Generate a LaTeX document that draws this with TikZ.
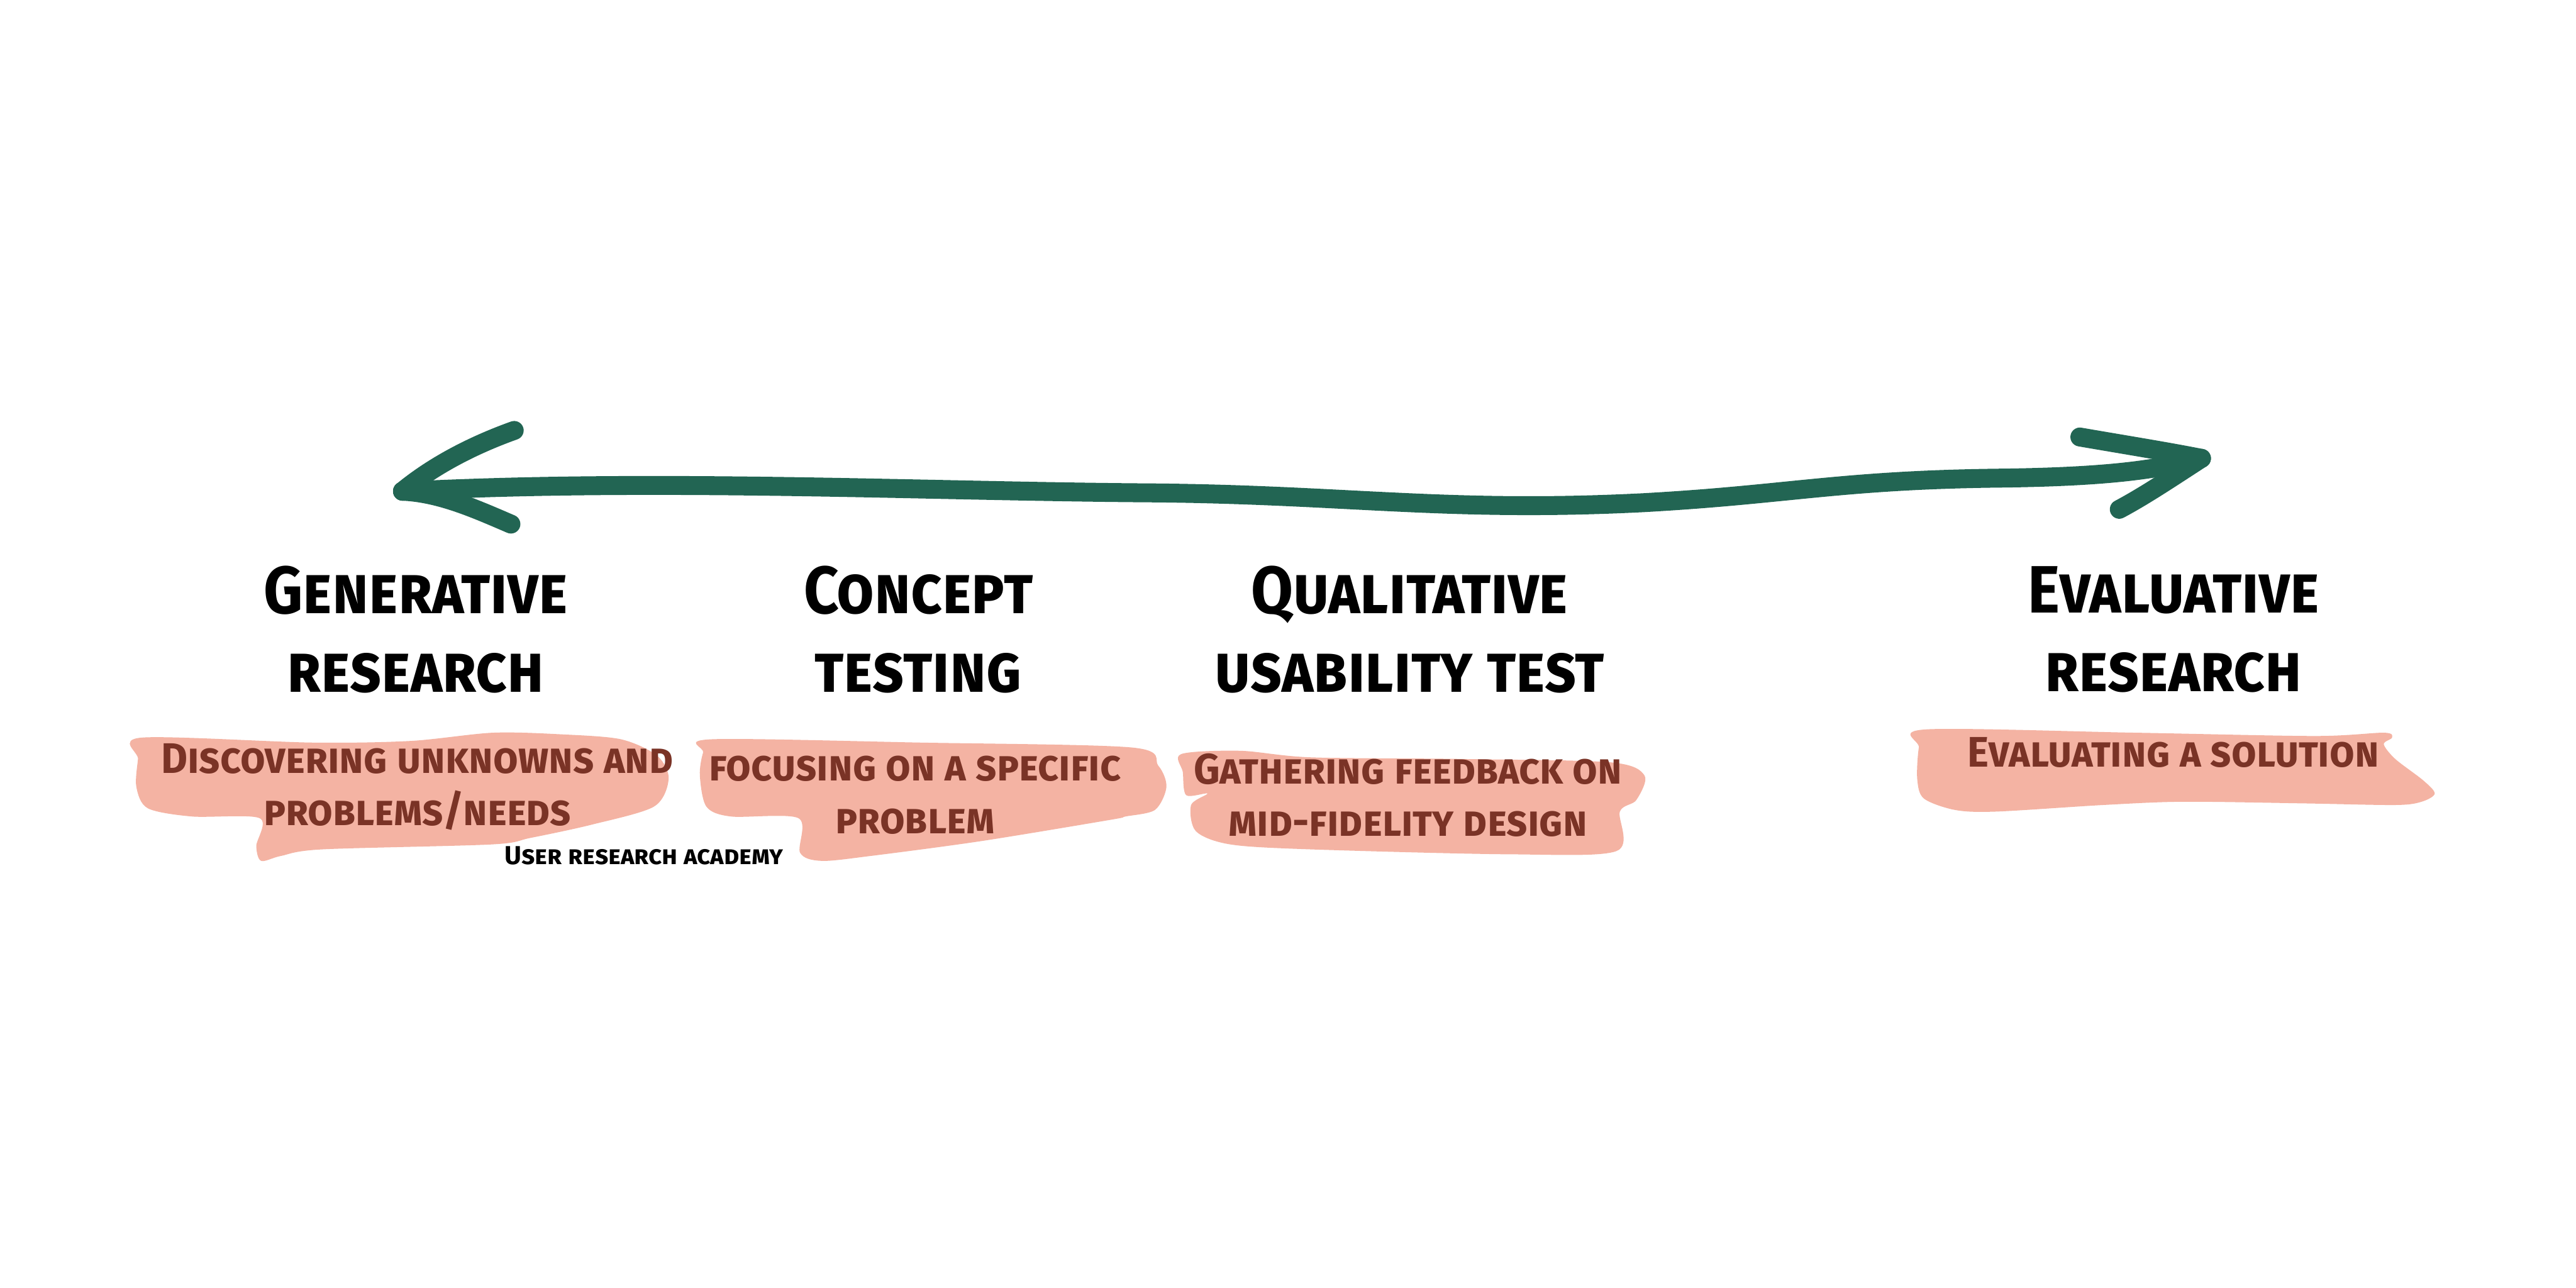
\documentclass[tikz,border=0pt]{standalone}
\usepackage{fontspec}
\setmainfont{Fira Sans}
\newfontfamily\titlefont{Fira Sans}[FakeStretch=0.91]
\newfontfamily\descfont{Fira Sans}[FakeStretch=0.95]
\definecolor{arrowgreen}{HTML}{226553}
\definecolor{blobpink}{HTML}{F4B3A3}
\definecolor{descbrown}{HTML}{7A3326}
\begin{document}
\begin{tikzpicture}[x=0.01cm,y=-0.01cm,
  title/.style={font=\titlefont\fontsize{11.6}{13.6}\selectfont\bfseries\scshape, align=center, text=black, inner sep=0pt},
  desc/.style={font=\descfont\fontsize{7.4}{9.1}\selectfont\bfseries\scshape, align=center, text=descbrown, inner sep=0pt},
  credit/.style={font=\fontsize{4.5}{5}\selectfont\bfseries\scshape, text=black, inner sep=0pt},
  blob/.style={fill=blobpink, draw=none},
  arrowline/.style={draw=arrowgreen, line width=0.115cm, line cap=round, line join=round}]
\useasboundingbox[fill=white] (0,0) rectangle (1568,784);

% arrow
\coordinate (ltip) at (245,299);
\coordinate (lup) at (313,262);
\coordinate (llow) at (311,319);
\coordinate (rtip) at (1340,279);
\coordinate (rup) at (1266,266);
\coordinate (rlow) at (1290,310);
\draw[arrowline] (ltip) .. controls (400,291) and (560,299) .. (700,300)
  .. controls (820,301) and (880,312) .. (1000,306)
  .. controls (1090,301) and (1120,292) .. (1220,291)
  .. controls (1290,290) and (1315,285) .. (rtip);
\draw[arrowline] (ltip) .. controls (262,285) and (285,272) .. (lup);
\draw[arrowline] (ltip) .. controls (268,300) and (290,310) .. (llow);
\draw[arrowline] (rup) .. controls (1295,271) and (1320,275) .. (rtip);
\draw[arrowline] (rtip) .. controls (1320,292) and (1305,302) .. (rlow);

% blobs
\fill[blob] plot[smooth cycle, tension=0.5] coordinates {(86,449) (190,452) (250,451) (300,446) (342,447) (378,450) (400,460) (407,474) (398,491) (360,502) (323,510) (299,514) (196,517) (171,521) (159,524) (156,515) (158,498) (117,497) (90,492) (83,479) (84,462)};
\fill[blob] plot[smooth cycle, tension=0.5] coordinates {(433,450) (560,452) (689,455) (705,466) (710,479) (703,493) (685,497) (676,499) (597,512) (530,521) (500,524) (487,519) (486,498) (445,497) (430,491) (426,472) (428,458)};
\fill[blob] plot[smooth cycle, tension=0.5] coordinates {(719,459) (755,457) (798,461) (890,462) (980,464) (1001,472) (996,487) (986,494) (984,518) (919,520) (798,517) (749,514) (728,506) (725,490) (735,483) (722,484) (720,470)};
\fill[blob] plot[smooth cycle, tension=0.5] coordinates {(1172,444) (1300,446) (1409,448) (1451,446) (1456,449) (1451,453) (1458,462) (1475,475) (1482,483) (1474,488) (1458,490) (1402,489) (1329,488) (1280,490) (1215,494) (1190,493) (1171,486) (1167,474) (1168,455)};

% titles
\node[title] (gen) at (253,383) {Generative\\research};
\node[title] (con) at (559,383) {Concept\\testing};
\node[title] (qual) at (858,383) {Qualitative\\usability test};
\node[title] (eval) at (1323,383) {Evaluative\\research};

% descriptions
\node[desc] (gend) at (254,479) {Discovering unknowns and\\problems/needs};
\node[desc] (cond) at (557,484) {focusing on a specific\\problem};
\node[desc] (quald) at (857,484) {Gathering feedback on\\mid-fidelity design};
\node[desc] (evald) at (1323,458) {Evaluating a solution};
\node[credit] (ura) at (392,521) {User research academy};
\end{tikzpicture}
\end{document}
